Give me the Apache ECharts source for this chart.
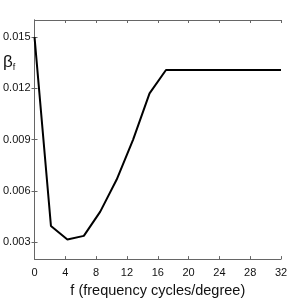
<!DOCTYPE html>
<html><head><meta charset="utf-8">
<script src="https://cdn.jsdelivr.net/npm/echarts@6/dist/echarts.min.js"></script>
<style>html,body{margin:0;padding:0;background:#fff}#c{width:291px;height:303px}</style>
</head><body><div id="c"></div>
<script>
const freqs = [0, 2.133, 4.267, 6.4, 8.533, 10.667, 12.8, 14.933, 17.067, 19.2, 21.333, 23.467, 25.6, 27.733, 29.867, 32];
const beta = [0.015, 0.00394, 0.00315, 0.00336, 0.00478, 0.00666, 0.0090, 0.0117, 0.01307, 0.01307, 0.01307, 0.01307, 0.01307, 0.01307, 0.01307, 0.01307];
const yTicks = [0.003, 0.006, 0.009, 0.012, 0.015];
const xLabel = 'f (frequency cycles/degree)';
const font = 'Liberation Sans, Arial, sans-serif';
const axisColor = '#666';
const chart = echarts.init(document.getElementById('c'));
chart.setOption({
  animation: false,
  grid: {left: 32, top: 20, right: 10, bottom: 34},
  xAxis: [{
    type: 'value', min: 0, max: 32, interval: 4,
    axisLine: {show: true, lineStyle: {color: axisColor, width: 1}},
    axisTick: {show: true, inside: true, length: 3, lineStyle: {color: axisColor}},
    axisLabel: {color: '#111', fontSize: 11, fontFamily: font, margin: 8},
    splitLine: {show: false},
    name: xLabel, nameLocation: 'middle', nameGap: 19,
    nameTextStyle: {color: '#111', fontSize: 14.5, fontFamily: font}
  }, {
    type: 'value', min: 0, max: 32, interval: 4, position: 'top',
    axisLine: {show: true, lineStyle: {color: axisColor, width: 1}},
    axisTick: {show: true, inside: true, length: 3, lineStyle: {color: axisColor}},
    axisLabel: {show: false}, splitLine: {show: false}
  }],
  yAxis: [{
    type: 'value', min: 0.002, max: 0.016,
    axisLine: {show: true, lineStyle: {color: axisColor, width: 1}},
    axisTick: {show: true, inside: true, length: 3, customValues: yTicks, lineStyle: {color: axisColor}},
    axisLabel: {color: '#111', fontSize: 11, fontFamily: font, margin: 4, customValues: yTicks,
      formatter: v => v.toFixed(3)},
    splitLine: {show: false}
  }, {
    type: 'value', min: 0.002, max: 0.016, position: 'right',
    axisLine: {show: true, lineStyle: {color: axisColor, width: 1}},
    axisTick: {show: true, inside: true, length: 3, customValues: yTicks, lineStyle: {color: axisColor}},
    axisLabel: {show: false}, splitLine: {show: false}
  }],
  graphic: [{
    type: 'text', left: 3, top: 54,
    style: {
      text: '{b|β}{s|f}',
      rich: {
        b: {fontSize: 17, fontFamily: font, fill: '#111'},
        s: {fontSize: 9, fontFamily: font, fill: '#111', padding: [10, 0, 0, 0]}
      }
    }
  }],
  series: [{
    type: 'line', xAxisIndex: 0, yAxisIndex: 0,
    data: freqs.map((f, i) => [f, beta[i]]),
    showSymbol: false, lineStyle: {color: '#000', width: 2}
  }]
});
</script></body></html>
